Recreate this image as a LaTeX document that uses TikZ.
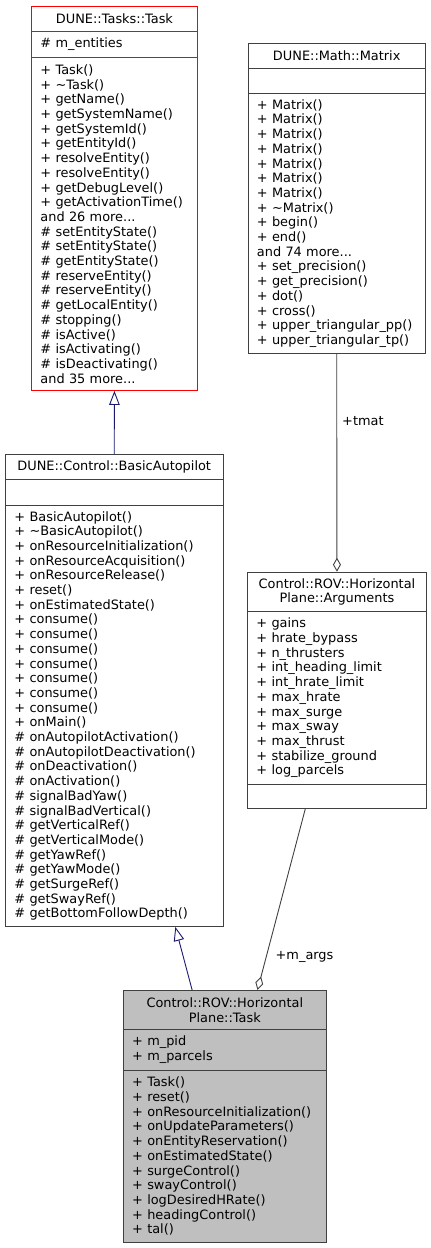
\documentclass[tikz,border=0pt]{standalone}
\usepackage{fontspec}
\setmainfont{DejaVu Sans}
\usetikzlibrary{arrows.meta,calc}

\definecolor{inhblue}{HTML}{191970}
\definecolor{usegray}{HTML}{404040}
\definecolor{focusgray}{HTML}{BFBFBF}

\tikzset{
  cls/.style={draw=usegray, line width=0.9pt, rectangle, inner sep=0pt, anchor=north west},
  clsname/.style={cls, align=center},
  clsbody/.style={cls, align=left, inner xsep=9pt, execute at begin node={\hyphenpenalty=10000\exhyphenpenalty=10000}},
  inherit/.style={draw=inhblue, line width=0.9pt, -{Triangle[open,length=14pt,width=10.5pt]}},
  usage/.style={draw=usegray, line width=0.9pt, -{Diamond[open,length=14pt,width=8pt]}},
  edgelabel/.style={anchor=west, inner sep=0pt}
}

\begin{document}
\begin{tikzpicture}[x=1pt, y=-1pt, font=\fontsize{12.9}{14.7}\selectfont]
\useasboundingbox (0,0) rectangle (431,1248);

% DUNE::Tasks::Task
\node[clsname, draw=red, minimum width=166pt, minimum height=25pt] (task-name) at (31,6) {DUNE::Tasks::Task};
\node[clsbody, draw=red, minimum width=166pt, minimum height=26pt, text width=148pt] (task-attr) at (31,31) {\# m\_entities};
\node[clsbody, draw=red, minimum width=166pt, minimum height=333pt, text width=148pt] (task-meth) at (31,57) {%
+ Task()\\
+ \textasciitilde Task()\\
+ getName()\\
+ getSystemName()\\
+ getSystemId()\\
+ getEntityId()\\
+ resolveEntity()\\
+ resolveEntity()\\
+ getDebugLevel()\\
+ getActivationTime()\\
and 26 more...\\
\# setEntityState()\\
\# setEntityState()\\
\# getEntityState()\\
\# reserveEntity()\\
\# reserveEntity()\\
\# getLocalEntity()\\
\# stopping()\\
\# isActive()\\
\# isActivating()\\
\# isDeactivating()\\
and 35 more...};

% DUNE::Math::Matrix
\node[clsname, minimum width=177.5pt, minimum height=25.3pt] (matrix-name) at (247.5,42.7) {DUNE::Math::Matrix};
\node[clsbody, minimum width=177.5pt, minimum height=25pt, text width=159.5pt] (matrix-attr) at (247.5,68) {};
\node[clsbody, minimum width=177.5pt, minimum height=260pt, text width=159.5pt] (matrix-meth) at (247.5,93) {%
+ Matrix()\\
+ Matrix()\\
+ Matrix()\\
+ Matrix()\\
+ Matrix()\\
+ Matrix()\\
+ Matrix()\\
+ \textasciitilde Matrix()\\
+ begin()\\
+ end()\\
and 74 more...\\
+ set\_precision()\\
+ get\_precision()\\
+ dot()\\
+ cross()\\
+ upper\_triangular\_pp()\\
+ upper\_triangular\_tp()};

% DUNE::Control::BasicAutopilot
\node[clsname, minimum width=217.5pt, minimum height=25pt] (basic-name) at (5,454) {DUNE::Control::BasicAutopilot};
\node[clsbody, minimum width=217.5pt, minimum height=26pt, text width=199.5pt] (basic-attr) at (5,479) {};
\node[clsbody, minimum width=217.5pt, minimum height=421pt, text width=199.5pt] (basic-meth) at (5,505) {%
+ BasicAutopilot()\\
+ \textasciitilde BasicAutopilot()\\
+ onResourceInitialization()\\
+ onResourceAcquisition()\\
+ onResourceRelease()\\
+ reset()\\
+ onEstimatedState()\\
+ consume()\\
+ consume()\\
+ consume()\\
+ consume()\\
+ consume()\\
+ consume()\\
+ consume()\\
+ onMain()\\
\# onAutopilotActivation()\\
\# onAutopilotDeactivation()\\
\# onDeactivation()\\
\# onActivation()\\
\# signalBadYaw()\\
\# signalBadVertical()\\
\# getVerticalRef()\\
\# getVerticalMode()\\
\# getYawRef()\\
\# getYawMode()\\
\# getSurgeRef()\\
\# getSwayRef()\\
\# getBottomFollowDepth()};

% Control::ROV::HorizontalPlane::Arguments
\node[clsname, minimum width=179pt, minimum height=39.3pt] (args-name) at (247,571.7) {Control::ROV::Horizontal\\Plane::Arguments};
\node[clsbody, minimum width=179pt, minimum height=173pt, text width=161pt] (args-attr) at (247,611) {%
+ gains\\
+ hrate\_bypass\\
+ n\_thrusters\\
+ int\_heading\_limit\\
+ int\_hrate\_limit\\
+ max\_hrate\\
+ max\_surge\\
+ max\_sway\\
+ max\_thrust\\
+ stabilize\_ground\\
+ log\_parcels};
\node[clsbody, minimum width=179pt, minimum height=24pt, text width=161pt] (args-meth) at (247,784) {};

% Control::ROV::HorizontalPlane::Task
\node[clsname, fill=focusgray, minimum width=203.3pt, minimum height=39pt] (hptask-name) at (122.7,990) {Control::ROV::Horizontal\\Plane::Task};
\node[clsbody, fill=focusgray, minimum width=203.3pt, minimum height=41pt, text width=185.3pt] (hptask-attr) at (122.7,1029) {%
+ m\_pid\\
+ m\_parcels};
\node[clsbody, fill=focusgray, minimum width=203.3pt, minimum height=171.7pt, text width=185.3pt] (hptask-meth) at (122.7,1070) {%
+ Task()\\
+ reset()\\
+ onResourceInitialization()\\
+ onUpdateParameters()\\
+ onEntityReservation()\\
+ onEstimatedState()\\
+ surgeControl()\\
+ swayControl()\\
+ logDesiredHRate()\\
+ headingControl()\\
+ tal()};

% connectors
\draw[inherit] (basic-name.north) -- (task-meth.south);
\draw[inherit] ($(hptask-name.north west)!0.34!(hptask-name.north east)$) -- ($(basic-meth.south west)!0.78!(basic-meth.south east)$);
\draw[usage] (matrix-meth.south) -- node[edgelabel, pos=0.31, xshift=5pt] (tmat-label) {+tmat} (args-name.north);
\draw[usage] ($(args-meth.south west)!0.324!(args-meth.south east)$) -- node[edgelabel, pos=0.817, xshift=9pt] (margs-label) {+m\_args} ($(hptask-name.north west)!0.66!(hptask-name.north east)$);
\end{tikzpicture}
\end{document}
